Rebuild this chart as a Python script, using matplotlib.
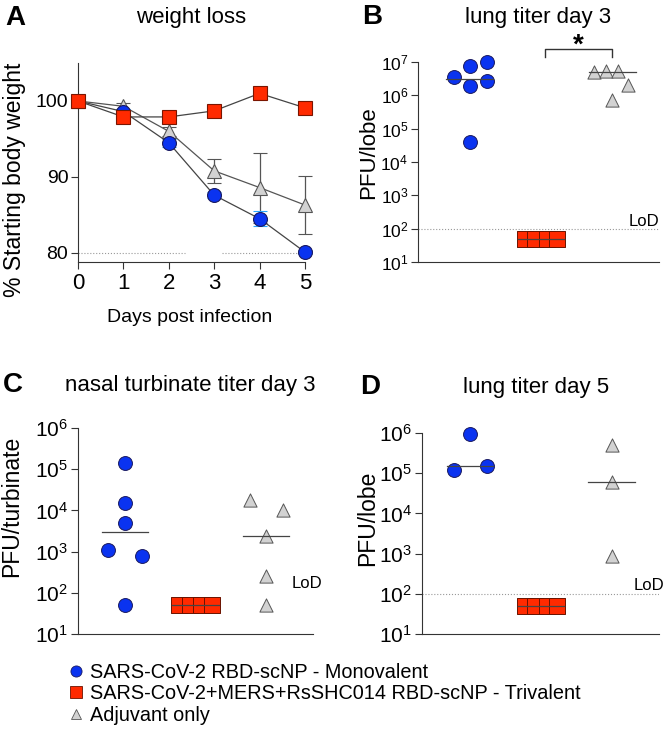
import numpy as np
import matplotlib
matplotlib.use("Agg")
import matplotlib.pyplot as plt
from matplotlib.lines import Line2D
from matplotlib.ticker import LogLocator

plt.rcParams["font.family"] = ["Liberation Sans", "DejaVu Sans"]

# colours
BLUE = "#0a33f0"
RED = "#ff2a00"
GRAY = "#d2d2d2"
AXIS = "#333333"

groups = ["SARS-CoV-2 RBD-scNP - Monovalent",
          "SARS-CoV-2+MERS+RsSHC014 RBD-scNP - Trivalent",
          "Adjuvant only"]

# A: weight loss (mean +/- error)
days = [0, 1, 2, 3, 4, 5]
weight_mono = [100, 98.6, 94.5, 87.6, 84.5, 80.1]
err_mono = [0, 0.4, 0.5, 0.4, 1.0, 0.3]
weight_tri = [100, 97.9, 97.9, 98.7, 101.0, 99.1]
err_tri = [0, 0.4, 0.4, 0.4, 0.5, 0.4]
weight_adj = [100, 99.3, 96.0, 90.8, 88.6, 86.3]
err_adj = [0, 0.4, 0.6, 1.6, 4.6, 3.8]

# B: lung titer day 3 (PFU/lobe)
b_mono = [3.6e6, 7.7e6, 1.0e7, 1.9e6, 2.7e6, 4.1e4]
b_mono_dx = [-0.23, 0, 0.24, 0, 0.24, 0]
b_tri = [50, 50, 50, 50]
b_adj = [5.0e6, 5.2e6, 5.4e6, 2.0e6, 7.3e5]
b_adj_dx = [-0.25, -0.08, 0.08, 0.23, 0]

# C: nasal turbinate titer day 3 (PFU/turbinate)
c_mono = [1.45e5, 1.5e4, 5.0e3, 1.07e3, 8.0e2, 50]
c_mono_dx = [0, 0, 0, -0.24, 0.24, 0]
c_tri = [50, 50, 50, 50]
c_adj = [1.8e4, 1.0e4, 2.4e3, 2.5e2, 50]
c_adj_dx = [-0.23, 0.24, 0, 0, 0]

# D: lung titer day 5 (PFU/lobe)
d_mono = [9.3e5, 1.2e5, 1.5e5]
d_mono_dx = [0, -0.23, 0.24]
d_tri = [50, 50, 50, 50]
d_adj = [4.9e5, 5.9e4, 8.5e2]
d_adj_dx = [0, 0, 0]

tri_dx = [-0.23, -0.08, 0.08, 0.23]
LOD = 100

W, H = 664, 731
fig = plt.figure(figsize=(W / 100, H / 100), dpi=100)


def box(l, t, r, b):
    return [l / W, 1 - b / H, (r - l) / W, (b - t) / H]


def style_axes(ax):
    for s in ["top", "right"]:
        ax.spines[s].set_visible(False)
    for s in ["left", "bottom"]:
        ax.spines[s].set_color(AXIS)
        ax.spines[s].set_linewidth(0.8)
    ax.tick_params(colors=AXIS, labelcolor="black", width=0.8, length=5)


# ---- Panel A
axA = fig.add_axes(box(78, 63, 305, 262))
style_axes(axA)
axA.errorbar(days, weight_adj, yerr=err_adj, color="#555555", lw=0.9, capsize=5,
             marker="^", ms=10, mfc=GRAY, mec="#555555", mew=0.8, clip_on=False, zorder=3)
axA.errorbar(days, weight_mono, yerr=err_mono, color="#444444", ecolor="#2aa4ff", lw=0.9,
             capsize=5, marker="o", ms=10, mfc=BLUE, mec="#1a1a60", mew=0.8,
             clip_on=False, zorder=4)
axA.errorbar(days, weight_tri, yerr=err_tri, color="#444444", lw=0.9, capsize=5,
             marker="s", ms=9.5, mfc=RED, mec="#7a1500", mew=0.8, clip_on=False, zorder=5)
axA.plot([0, 2.36], [80, 80], ls=":", color="#999999", lw=0.8, zorder=1)
axA.plot([3.17, 5], [80, 80], ls=":", color="#999999", lw=0.8, zorder=1)
axA.set_xlim(0, 5)
axA.set_ylim(78.8, 105)
axA.set_xticks(days)
axA.set_yticks([80, 90, 100])
axA.tick_params(axis="x", labelsize=16, pad=3)
axA.tick_params(axis="y", labelsize=14, pad=2)
fig.text(190 / W, 1 - 317 / H, "Days post infection", ha="center", va="center", fontsize=14)
fig.text(15 / W, 1 - 180 / H, "% Starting body weight", ha="center", va="center",
         rotation=90, fontsize=16.5)
fig.text(191 / W, 1 - 18 / H, "weight loss", ha="center", va="center", fontsize=16)
fig.text(15 / W, 1 - 18 / H, "A", ha="center", va="center", fontsize=20, fontweight="bold")


def dot_panel(ax, mono, mono_dx, tri, adj, adj_dx, ylim, lod_line=True, lsize=14):
    style_axes(ax)
    ax.set_yscale("log")
    ax.set_ylim(*ylim)
    ax.set_xlim(-0.68, 2.67)
    ax.set_xticks([])
    ax.yaxis.set_major_locator(LogLocator(base=10, numticks=20))
    ax.tick_params(axis="y", which="minor", left=False)
    ax.tick_params(axis="y", labelsize=lsize, pad=2)
    ax.scatter(np.array(mono_dx), mono, s=10 ** 2, marker="o", c=BLUE,
               edgecolors="#1a1a60", linewidths=0.7, zorder=3, clip_on=False)
    ax.scatter(1 + np.array(tri_dx), tri, s=11 ** 2, marker="s", c=RED,
               edgecolors="#6a1200", linewidths=0.7, zorder=3, clip_on=False)
    ax.scatter(2 + np.array(adj_dx), adj, s=9.5 ** 2, marker="^", c=GRAY,
               edgecolors="#555555", linewidths=0.7, zorder=3, clip_on=False)
    for i, vals in enumerate([mono, tri, adj]):
        m = np.median(vals)
        ax.plot([i - 0.33, i + 0.33], [m, m], color="#444444", lw=0.9, zorder=4)
    if lod_line:
        ax.axhline(LOD, ls=":", color="#999999", lw=0.8, zorder=1)


# ---- Panel B
axB = fig.add_axes(box(418, 62, 659, 262))
dot_panel(axB, b_mono, b_mono_dx, b_tri, b_adj, b_adj_dx, (10, 1e7), lsize=12.5)
axB.set_xlim(-0.73, 2.66)
axB.plot([1.06, 1.06, 2, 2], [1.4e7, 2.45e7, 2.45e7, 1.4e7], color="#333333", lw=1,
         clip_on=False)
axB.text(1.53, 3.0e7, "*", ha="center", va="center", fontsize=20, fontweight="bold")
fig.text(644 / W, 1 - 222 / H, "LoD", ha="center", va="center", fontsize=12)
fig.text(538 / W, 1 - 17 / H, "lung titer day 3", ha="center", va="center", fontsize=16)
fig.text(372 / W, 1 - 17 / H, "B", ha="center", va="center", fontsize=20, fontweight="bold")
fig.text(369 / W, 1 - 153 / H, "PFU/lobe", ha="center", va="center", rotation=90,
         fontsize=16)

# ---- Panel C
axC = fig.add_axes(box(78, 428, 313, 634))
dot_panel(axC, c_mono, c_mono_dx, c_tri, c_adj, c_adj_dx, (10, 1e6), lod_line=False,
          lsize=15)
axC.set_xlim(-0.667, 2.667)
fig.text(307 / W, 1 - 583 / H, "LoD", ha="center", va="center", fontsize=12)
fig.text(190 / W, 1 - 385 / H, "nasal turbinate titer day 3", ha="center", va="center",
         fontsize=16)
fig.text(13 / W, 1 - 385 / H, "C", ha="center", va="center", fontsize=20, fontweight="bold")
fig.text(12 / W, 1 - 506 / H, "PFU/turbinate", ha="center", va="center", rotation=90,
         fontsize=16.5)

# ---- Panel D
axD = fig.add_axes(box(422, 433, 659, 634))
dot_panel(axD, d_mono, d_mono_dx, d_tri, d_adj, d_adj_dx, (10, 1e6), lsize=15)
fig.text(649 / W, 1 - 585 / H, "LoD", ha="center", va="center", fontsize=12)
fig.text(536 / W, 1 - 387 / H, "lung titer day 5", ha="center", va="center", fontsize=16)
fig.text(370 / W, 1 - 387 / H, "D", ha="center", va="center", fontsize=20, fontweight="bold")
fig.text(368 / W, 1 - 518 / H, "PFU/lobe", ha="center", va="center", rotation=90,
         fontsize=16.5)

# ---- legend
handles = [
    Line2D([], [], ls="", marker="o", ms=8, mfc=BLUE, mec="#1a1a60", mew=0.6),
    Line2D([], [], ls="", marker="s", ms=8, mfc=RED, mec="#6a1200", mew=0.6),
    Line2D([], [], ls="", marker="^", ms=7, mfc=GRAY, mec="#555555", mew=0.6),
]
fig.legend(handles, groups, loc="upper left", bbox_to_anchor=(68 / W, 1 - 663 / H),
           frameon=False, fontsize=14.3, handlelength=0.8, handletextpad=0.3,
           labelspacing=0.12, borderpad=0, borderaxespad=0)

fig.savefig("out.png", dpi=100)
